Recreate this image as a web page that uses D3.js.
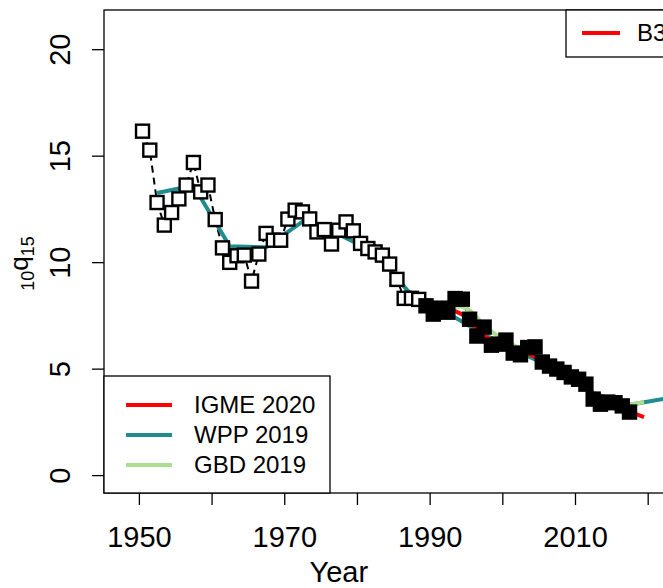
<!DOCTYPE html>
<html>
<head>
<meta charset="utf-8">
<script src="https://cdn.jsdelivr.net/npm/d3@7"></script>
<style>
  body { margin: 0; background: #fff; }
  svg { display: block; font-family: "Liberation Sans", Arial, sans-serif; }
</style>
</head>
<body>
<div id="chart"></div>
<script>
// observed 10q15 (open squares, then filled squares)
const openYears = [1950.5, 1951.5, 1952.5, 1953.5, 1954.5, 1955.5, 1956.5, 1957.5, 1958.5, 1959.5,
  1960.5, 1961.5, 1962.5, 1963.5, 1964.5, 1965.5, 1966.5, 1967.5, 1968.5, 1969.5,
  1970.5, 1971.5, 1972.5, 1973.5, 1974.5, 1975.5, 1976.5, 1977.5, 1978.5, 1979.5,
  1980.5, 1981.5, 1982.5, 1983.5, 1984.5, 1985.5, 1986.5, 1987.5, 1988.5];
const openValues = [16.15, 15.26, 12.80, 11.74, 12.33, 12.97, 13.62, 14.68, 13.30, 13.62,
  12.00, 10.67, 9.99, 10.30, 10.33, 9.11, 10.38, 11.35, 11.03, 11.03,
  12.02, 12.44, 12.36, 12.03, 11.42, 11.53, 10.85, 11.50, 11.89, 11.47,
  10.88, 10.64, 10.48, 10.33, 9.91, 9.19, 8.30, 8.30, 8.25];
const filledYears = [1989.5, 1990.5, 1991.5, 1992.5, 1993.5, 1994.5, 1995.5, 1996.5, 1997.5, 1998.5,
  1999.5, 2000.5, 2001.5, 2002.5, 2003.5, 2004.5, 2005.5, 2006.5, 2007.5, 2008.5,
  2009.5, 2010.5, 2011.5, 2012.5, 2013.5, 2014.5, 2015.5, 2016.5, 2017.5];
const filledValues = [7.95, 7.56, 7.84, 7.65, 8.29, 8.26, 7.32, 6.53, 6.95, 6.10,
  6.15, 6.34, 5.73, 5.65, 5.99, 6.02, 5.31, 5.12, 4.98, 4.82,
  4.61, 4.50, 4.27, 3.57, 3.33, 3.43, 3.40, 3.25, 2.96];

// WPP 2019 (five-year periods)
const wppYears = [1952.5, 1957.5, 1962.5, 1967.5, 1972.5, 1977.5, 1982.5, 1987.5, 1992.5, 1997.5,
  2002.5, 2007.5, 2012.5, 2017.5, 2022.5];
const wppValues = [13.25, 13.6, 10.75, 10.7, 11.9, 11.3, 10.45, 8.45, 7.6, 6.6,
  5.75, 4.95, 3.85, 3.3, 3.6];

// GBD 2019
const gbdYears = [1990.5, 1991.5, 1992.5, 1993.5, 1994.5, 1995.5, 1996.5, 1997.5, 1998.5, 1999.5,
  2000.5, 2001.5, 2002.5, 2003.5, 2004.5, 2005.5, 2006.5, 2007.5, 2008.5, 2009.5,
  2010.5, 2011.5, 2012.5, 2013.5, 2014.5, 2015.5, 2016.5, 2017.5, 2018.5, 2019.5];
const gbdValues = [8.1, 8.0, 7.95, 7.9, 7.9, 7.75, 7.4, 7.05, 6.75, 6.5,
  6.3, 6.1, 5.95, 5.8, 5.65, 5.45, 5.25, 5.05, 4.85, 4.65,
  4.45, 4.2, 3.9, 3.65, 3.5, 3.42, 3.35, 3.3, 3.36, 3.43];

// IGME 2020
const igmeYears = gbdYears;
const igmeValues = [7.9, 7.85, 7.8, 7.7, 7.55, 7.2, 6.85, 6.55, 6.35, 6.2,
  6.05, 5.9, 5.8, 5.7, 5.55, 5.35, 5.15, 4.95, 4.75, 4.55,
  4.35, 4.1, 3.8, 3.55, 3.4, 3.3, 3.15, 3.0, 2.85, 2.72];

const yTicks = [0, 5, 10, 15, 20];
const xTicks = [1950, 1960, 1970, 1980, 1990, 2000, 2010, 2020, 2030];
const xLabels = [1950, 1970, 1990, 2010];

const legendNames = ["IGME 2020", "WPP 2019", "GBD 2019"];
const legendColors = ["#ff0000", "#1f8c8f", "#addd8e"];
const topLegendName = "B3";

const width = 663, height = 588;
const plot = {left: 104, top: 10, bottom: 493, right: 1046};

const svg = d3.select("#chart").append("svg")
  .attr("width", width)
  .attr("height", height);

const x = d3.scaleLinear()
  .domain([1945.2, 2074.8])
  .range([plot.left, plot.right]);

const y = d3.scaleLinear()
  .domain([-0.84, 21.84])
  .range([plot.bottom, plot.top]);

svg.append("clipPath").attr("id", "clip")
  .append("rect")
    .attr("x", plot.left).attr("y", plot.top)
    .attr("width", plot.right - plot.left).attr("height", plot.bottom - plot.top);

const g = svg.append("g").attr("clip-path", "url(#clip)");

const pair = (xs, ys) => xs.map((d, i) => [d, ys[i]]);
const line = d3.line().x(d => x(d[0])).y(d => y(d[1]));

const obs = pair(openYears, openValues).concat(pair(filledYears, filledValues));

// dashed line through the observations
g.append("path")
  .datum(obs)
  .attr("d", line)
  .attr("fill", "none")
  .attr("stroke", "#000")
  .attr("stroke-width", 2)
  .attr("stroke-dasharray", "7,5");

g.append("path")
  .datum(pair(wppYears, wppValues))
  .attr("d", line)
  .attr("fill", "none")
  .attr("stroke", legendColors[1])
  .attr("stroke-width", 4);

g.append("path")
  .datum(pair(gbdYears, gbdValues))
  .attr("d", line)
  .attr("fill", "none")
  .attr("stroke", legendColors[2])
  .attr("stroke-width", 4);

g.append("path")
  .datum(pair(igmeYears, igmeValues))
  .attr("d", line)
  .attr("fill", "none")
  .attr("stroke", legendColors[0])
  .attr("stroke-width", 4);

const side = 13;
g.selectAll("rect.open")
  .data(pair(openYears, openValues))
  .enter().append("rect")
    .attr("class", "open")
    .attr("x", d => x(d[0]) - side / 2)
    .attr("y", d => y(d[1]) - side / 2)
    .attr("width", side).attr("height", side)
    .attr("fill", "#fff")
    .attr("stroke", "#000")
    .attr("stroke-width", 2.4);

g.selectAll("rect.filled")
  .data(pair(filledYears, filledValues))
  .enter().append("rect")
    .attr("class", "filled")
    .attr("x", d => x(d[0]) - side / 2)
    .attr("y", d => y(d[1]) - side / 2)
    .attr("width", side).attr("height", side)
    .attr("fill", "#000")
    .attr("stroke", "#000")
    .attr("stroke-width", 2.4);

// plot box
svg.append("rect")
  .attr("x", plot.left).attr("y", plot.top)
  .attr("width", plot.right - plot.left).attr("height", plot.bottom - plot.top)
  .attr("fill", "none")
  .attr("stroke", "#000")
  .attr("stroke-width", 1.3);

// axes
const yAxis = svg.append("g")
  .attr("transform", `translate(${plot.left},0)`)
  .call(d3.axisLeft(y).tickValues(yTicks).tickSize(12).tickSizeOuter(0));
yAxis.select(".domain").remove();
yAxis.selectAll("line").attr("stroke-width", 1.3);
yAxis.selectAll("text")
  .attr("x", null).attr("dy", null)
  .attr("text-anchor", "middle")
  .attr("transform", "translate(-34,0) rotate(-90)")
  .attr("fill", "#000")
  .style("font-size", "29px")
  .style("font-family", "Liberation Sans, Arial, sans-serif");

const xAxis = svg.append("g")
  .attr("transform", `translate(0,${plot.bottom})`)
  .call(d3.axisBottom(x).tickValues(xTicks).tickSize(12).tickSizeOuter(0)
    .tickFormat(d => xLabels.includes(d) ? d : ""));
xAxis.select(".domain").remove();
xAxis.selectAll("line").attr("stroke-width", 1.3);
xAxis.selectAll("text")
  .attr("y", 54).attr("dy", null)
  .attr("fill", "#000")
  .style("font-size", "29px")
  .style("font-family", "Liberation Sans, Arial, sans-serif");

svg.append("text")
  .attr("x", x(1977.5)).attr("y", 582)
  .attr("text-anchor", "middle")
  .style("font-size", "29px")
  .text("Year");

const ylab = svg.append("text")
  .attr("transform", `translate(28,${(plot.top + plot.bottom) / 2 + 12}) rotate(-90)`)
  .attr("text-anchor", "middle")
  .style("font-size", "26px");
ylab.append("tspan").attr("font-size", "18px").attr("dy", 6).text("10");
ylab.append("tspan").attr("dy", -6).text("q");
ylab.append("tspan").attr("font-size", "18px").attr("dy", 6).text("15");

// bottom-left legend
const leg = svg.append("g");
leg.append("rect")
  .attr("x", plot.left).attr("y", 376)
  .attr("width", 226).attr("height", plot.bottom - 376)
  .attr("fill", "#fff")
  .attr("stroke", "#000")
  .attr("stroke-width", 1.3);
const items = leg.selectAll("g.item")
  .data(legendNames)
  .enter().append("g")
    .attr("transform", (d, i) => `translate(0,${405 + i * 30})`);
items.append("line")
  .attr("x1", 126).attr("x2", 172)
  .attr("stroke", (d, i) => legendColors[i])
  .attr("stroke-width", 4);
items.append("text")
  .attr("x", 194).attr("dy", "0.35em")
  .style("font-size", "24px")
  .text(d => d);

// top-right legend (cut off by the right edge, as in the original)
const leg2 = svg.append("g");
leg2.append("rect")
  .attr("x", 566).attr("y", plot.top)
  .attr("width", 200).attr("height", 47)
  .attr("fill", "#fff")
  .attr("stroke", "#000")
  .attr("stroke-width", 1.3);
leg2.append("line")
  .attr("x1", 582).attr("x2", 620)
  .attr("y1", 33).attr("y2", 33)
  .attr("stroke", legendColors[0])
  .attr("stroke-width", 4);
leg2.append("text")
  .attr("x", 637).attr("y", 33).attr("dy", "0.35em")
  .style("font-size", "24px")
  .text(topLegendName);
</script>
</body>
</html>
